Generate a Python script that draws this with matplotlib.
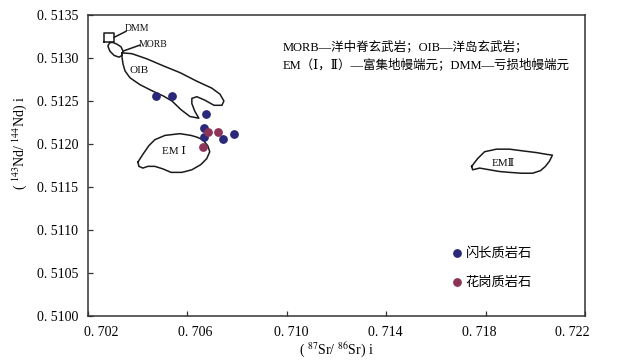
import matplotlib
matplotlib.use('Agg')
import matplotlib.pyplot as plt
from matplotlib.transforms import ScaledTranslation

plt.rcParams['font.family'] = ['Liberation Serif', 'DejaVu Serif', 'Noto Sans CJK SC']
plt.rcParams['mathtext.fontset'] = 'stix'

# Sr-Nd isotope data (initial ratios)
diorite_sr = [0.70472, 0.70538, 0.70674, 0.70665, 0.70665, 0.70744, 0.70787]
diorite_nd = [0.51256, 0.51256, 0.51235, 0.51219, 0.51208, 0.51206, 0.51212]
granite_sr = [0.70682, 0.70724, 0.70662]
granite_nd = [0.51214, 0.51214, 0.51197]

# mantle end-member fields (outlines in data units)
dmm_sr = [0.70265, 0.70305, 0.70305, 0.70265, 0.70265]
dmm_nd = [0.51319, 0.51319, 0.51329, 0.51329, 0.51319]

morb_sr = [0.70288, 0.70280, 0.70288, 0.70305, 0.70325, 0.70337, 0.70341, 0.70333, 0.70317, 0.70301, 0.70288]
morb_nd = [0.51318, 0.51314, 0.51308, 0.51303, 0.51301, 0.51303, 0.51308, 0.51313, 0.51316, 0.51318, 0.51318]

oib_sr = [0.70337, 0.70377, 0.70437, 0.70502, 0.70570, 0.70638, 0.70698, 0.70731, 0.70747, 0.70739,
          0.70707, 0.70670, 0.70638, 0.70618, 0.70618, 0.70630, 0.70646, 0.70610, 0.70574, 0.70538,
          0.70502, 0.70457, 0.70409, 0.70369, 0.70349, 0.70341, 0.70337, 0.70337]
oib_nd = [0.51306, 0.51305, 0.51299, 0.51291, 0.51283, 0.51273, 0.51265, 0.51258, 0.51250, 0.51245,
          0.51245, 0.51251, 0.51255, 0.51253, 0.51247, 0.51238, 0.51230, 0.51232, 0.51240, 0.51250,
          0.51256, 0.51262, 0.51269, 0.51277, 0.51285, 0.51293, 0.51301, 0.51306]

em1_sr = [0.70401, 0.70421, 0.70445, 0.70469, 0.70510, 0.70570, 0.70614, 0.70638, 0.70662, 0.70682,
          0.70690, 0.70678, 0.70654, 0.70618, 0.70578, 0.70534, 0.70502, 0.70469, 0.70441, 0.70421,
          0.70405, 0.70401]
em1_nd = [0.51179, 0.51188, 0.51198, 0.51205, 0.51210, 0.51212, 0.51210, 0.51208, 0.51205, 0.51198,
          0.51191, 0.51183, 0.51176, 0.51170, 0.51167, 0.51167, 0.51171, 0.51174, 0.51174, 0.51172,
          0.51174, 0.51179]

em2_sr = [0.71744, 0.71768, 0.71796, 0.71844, 0.71896, 0.71949, 0.72005, 0.72045, 0.72069, 0.72057,
          0.72041, 0.72021, 0.71989, 0.71945, 0.71896, 0.71856, 0.71816, 0.71776, 0.71748, 0.71744]
em2_nd = [0.51174, 0.51183, 0.51191, 0.51194, 0.51194, 0.51192, 0.51190, 0.51188, 0.51187, 0.51180,
          0.51174, 0.51169, 0.51166, 0.51166, 0.51167, 0.51168, 0.51170, 0.51172, 0.51170, 0.51174]

xticks = [0.702, 0.706, 0.710, 0.714, 0.718, 0.722]
yticks = [0.5100, 0.5105, 0.5110, 0.5115, 0.5120, 0.5125, 0.5130, 0.5135]
xtick_labels = ['0. 702', '0. 706', '0. 710', '0. 714', '0. 718', '0. 722']
ytick_labels = ['0. 5100', '0. 5105', '0. 5110', '0. 5115', '0. 5120', '0. 5125', '0. 5130', '0. 5135']

fig = plt.figure(figsize=(6.2, 3.64), dpi=100)
ax = fig.add_axes([0.1419, 0.1319, 0.8016, 0.8269])

line_kw = dict(color='#1a1a1a', lw=1.1)
for xs, ys in [(dmm_sr, dmm_nd), (morb_sr, morb_nd), (oib_sr, oib_nd), (em1_sr, em1_nd), (em2_sr, em2_nd)]:
    ax.plot(xs, ys, **line_kw)

# leader lines for the small fields
ax.plot([0.70305, 0.70353], [0.51324, 0.51331], **line_kw)
ax.plot([0.70341, 0.70409], [0.51308, 0.51315], **line_kw)

lab_kw = dict(fontsize=7, ha='center', va='center', color='#111111')
ax.text(0.70397, 0.51334, 'DMM', **lab_kw)
ax.text(0.70461, 0.51316, 'MORB', **lab_kw)
ax.text(0.70405, 0.51285, 'OIB', fontsize=8, ha='center', va='center', color='#111111')
ax.text(0.70546, 0.51191, 'EM Ⅰ', fontsize=8, ha='center', va='center', color='#111111')
ax.text(0.71872, 0.51177, 'EMⅡ', fontsize=8, ha='center', va='center', color='#111111')

ax.scatter(diorite_sr, diorite_nd, s=28, color='#2a2878', zorder=3, label='闪长质岩石')
ax.scatter(granite_sr, granite_nd, s=28, color='#8c3358', zorder=4, label='花岗质岩石')

ax.text(0.392, 0.895, 'MORB—洋中脊玄武岩；OIB—洋岛玄武岩；', transform=ax.transAxes,
        fontsize=9, va='center', ha='left')
ax.text(0.392, 0.834, 'EM（Ⅰ，Ⅱ）—富集地幔端元；DMM—亏损地幔端元', transform=ax.transAxes,
        fontsize=9, va='center', ha='left')

leg = ax.legend(loc='upper left', bbox_to_anchor=(0.715, 0.26), frameon=False, fontsize=9.5,
                handlelength=0.6, handletextpad=0.4, labelspacing=1.3, borderpad=0.2)

ax.set_xlim(0.702, 0.722)
ax.set_ylim(0.5100, 0.5135)
ax.set_xticks(xticks)
ax.set_xticklabels(xtick_labels)
ax.set_yticks(yticks)
ax.set_yticklabels(ytick_labels)
ax.tick_params(direction='in', length=3.5, width=0.9, labelsize=10, color='#333333', pad=7)

# tick labels sit on a slightly narrower spacing than the ticks
shift_px = [13.7, 7.7, 4.0, -1.3, -6.7, -12.3]
for lbl, dx in zip(ax.get_xticklabels(), shift_px):
    lbl.set_transform(lbl.get_transform() + ScaledTranslation(dx / 100, 0, fig.dpi_scale_trans))

for sp in ax.spines.values():
    sp.set_color('#333333')
    sp.set_linewidth(1.1)

ax.set_xlabel('( $^{87}$Sr/ $^{86}$Sr) i', fontsize=10, labelpad=2)
ax.set_ylabel('( $^{143}$Nd/ $^{144}$Nd) i', fontsize=10)
ax.yaxis.set_label_coords(-0.118, 0.575)

plt.savefig('out.png', dpi=100)
